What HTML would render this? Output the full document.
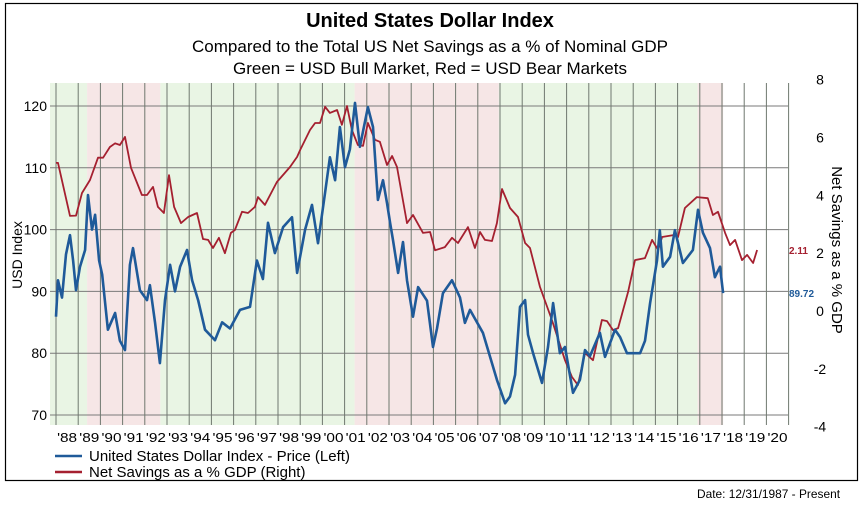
<!DOCTYPE html>
<html><head><meta charset="utf-8"><style>
html,body{margin:0;padding:0;background:#fff;}
svg text{font-family:"Liberation Sans",sans-serif;}
</style></head><body>
<svg id="chart" width="861" height="509" viewBox="0 0 861 509" xmlns="http://www.w3.org/2000/svg">
<rect x="5.5" y="3.5" width="852" height="477" fill="#fff" stroke="#000" stroke-width="1.2"/>
<text x="430" y="27" text-anchor="middle" font-size="20" font-weight="bold">United States Dollar Index</text>
<text x="430" y="52" text-anchor="middle" font-size="17">Compared to the Total US Net Savings as a % of Nominal GDP</text>
<text x="430" y="74" text-anchor="middle" font-size="17">Green = USD Bull Market, Red = USD Bear Markets</text>
<g id="regimes"></g>
<g id="grid"></g>
<g id="series"></g>
<g id="axes"></g>
<text transform="translate(22,255) rotate(-90)" text-anchor="middle" font-size="14">USD Index</text>
<text transform="translate(832,250) rotate(90)" text-anchor="middle" font-size="15">Net Savings as a % GDP</text>
<line x1="55" y1="456" x2="82" y2="456" stroke="#1f5a99" stroke-width="2.5"/>
<text x="89" y="461" font-size="15">United States Dollar Index - Price (Left)</text>
<line x1="55" y1="472" x2="82" y2="472" stroke="#a52030" stroke-width="2.5"/>
<text x="89" y="477" font-size="15">Net Savings as a % GDP (Right)</text>
<text x="840" y="498" text-anchor="end" font-size="12" textLength="143" lengthAdjust="spacingAndGlyphs">Date: 12/31/1987 - Present</text>
</svg>
<script>
const usdYears=[1988.00,1988.09,1988.27,1988.45,1988.63,1988.77,1988.90,1989.08,1989.31,1989.44,1989.62,1989.76,1989.94,1990.08,1990.34,1990.66,1990.88,1991.11,1991.33,1991.47,1991.78,1992.10,1992.23,1992.46,1992.68,1992.91,1993.14,1993.36,1993.59,1993.90,1994.13,1994.40,1994.71,1995.16,1995.48,1995.84,1996.29,1996.74,1997.05,1997.32,1997.55,1997.86,1998.23,1998.63,1998.86,1999.22,1999.53,1999.80,2000.12,2000.34,2000.57,2000.79,2001.02,2001.24,2001.47,2001.69,2002.05,2002.28,2002.50,2002.73,2002.91,2003.05,2003.18,2003.41,2003.63,2003.81,2004.08,2004.31,2004.71,2004.98,2005.16,2005.43,2005.84,2006.20,2006.42,2006.65,2007.23,2007.86,2008.23,2008.45,2008.68,2008.90,2009.13,2009.26,2009.49,2009.89,2010.16,2010.39,2010.70,2010.93,2011.29,2011.60,2011.83,2012.05,2012.50,2012.73,2013.18,2013.41,2013.72,2014.31,2014.53,2014.76,2015.07,2015.20,2015.34,2015.66,2015.88,2016.24,2016.69,2016.92,2017.14,2017.46,2017.68,2017.91,2018.05];
const usdValues=[85.9,91.8,89,96,99.1,95,90.2,94,96.7,105.6,100,102.4,95,92.7,83.8,86.5,82,80.5,94.3,97,90.2,88.6,91,85,78.4,88.6,94.3,90,94,96.7,91.8,88.6,83.8,82.1,85,84,87,87.5,95,92,101.1,96.2,100.4,102,93,100,104,97.8,106,111.7,108,116.6,110.1,113,120.5,113.4,119.8,116.6,104.8,108,104.3,101.1,98.3,93,98,91.8,85.9,90.7,88.5,81,84,89.7,91.8,89,84.9,87,83.3,75.7,71.9,73,76.5,87.5,88.6,83,80,75.2,81,88.1,80,81,73.6,75.7,80.5,79.5,83.3,79.4,83.8,82.6,80,80,82,88.1,95,99.9,94,95.6,99.9,94.6,96.7,103.2,99.5,97,92.3,94,89.72];
const savYears=[1988.00,1988.09,1988.63,1988.90,1989.17,1989.53,1989.89,1990.12,1990.43,1990.66,1990.88,1991.11,1991.38,1991.87,1992.10,1992.37,1992.59,1992.86,1993.09,1993.32,1993.63,1993.95,1994.35,1994.62,1994.85,1995.07,1995.34,1995.61,1995.88,1996.06,1996.38,1996.65,1996.96,1997.10,1997.41,1997.95,1998.54,1998.86,1999.00,1999.44,1999.67,1999.89,2000.12,2000.34,2000.66,2000.88,2001.11,2001.33,2001.60,2001.83,2002.05,2002.37,2002.59,2002.91,2003.14,2003.36,2003.81,2004.08,2004.53,2004.85,2005.07,2005.52,2005.84,2006.11,2006.56,2006.87,2007.10,2007.32,2007.64,2007.86,2008.09,2008.45,2008.81,2009.13,2009.35,2009.80,2010.34,2010.93,2011.24,2011.51,2011.83,2012.19,2012.59,2012.82,2013.09,2013.32,2013.77,2014.08,2014.53,2014.85,2015.12,2015.30,2015.88,2016.02,2016.33,2016.87,2017.36,2017.59,2017.82,2018.14,2018.36,2018.59,2018.90,2019.13,2019.40,2019.58];
const savValues=[5.12,5.12,3.29,3.3,4.08,4.53,5.3,5.3,5.67,5.8,5.74,6.02,4.95,4.01,4.01,4.29,3.6,3.39,4.7,3.6,3.04,3.25,3.39,2.49,2.46,2.18,2.53,2.0,2.7,2.8,3.43,3.39,3.6,3.94,3.67,4.46,4.98,5.33,5.57,6.26,6.5,6.5,7.06,6.85,6.95,6.44,7.09,6.26,5.74,5.71,6.5,5.92,5.85,5.05,5.36,4.98,3.04,3.32,2.7,2.73,2.1,2.21,2.53,2.35,2.9,2.18,2.73,2.46,2.42,3.04,4.22,3.56,3.25,2.35,2.18,0.83,-0.31,-1.7,-2.28,-2.56,-1.45,-1.7,-0.31,-0.35,-0.66,-0.59,0.66,1.76,1.83,2.46,2.11,2.56,2.63,2.56,3.56,3.94,3.9,3.32,3.43,2.7,2.28,2.46,1.76,1.94,1.66,2.11];
const regimeStarts=[1987.73,1989.4,1992.7,2001.45,2007.95,2016.9];
const regimeEnds=[1989.4,1992.7,2001.45,2007.95,2016.9,2018.05];
const regimeTypes=["bull","bear","bull","bear","bull","bear"];
const leftTicks=[70,80,90,100,110,120];
const rightTicks=[-4,-2,0,2,4,6,8];
const yearLabels=["'88","'89","'90","'91","'92","'93","'94","'95","'96","'97","'98","'99","'00","'01","'02","'03","'04","'05","'06","'07","'08","'09","'10","'11","'12","'13","'14","'15","'16","'17","'18","'19","'20"];
const lastUsdLabel="89.72", lastSavLabel="2.11";

const NS="http://www.w3.org/2000/svg";
const X0=56, PX_PER_YEAR=22.2, PLOT_TOP=83, PLOT_BOTTOM=425, PLOT_LEFT=50, PLOT_RIGHT=788;
function xScale(t){return X0+(t-1988)*PX_PER_YEAR;}
function yLeft(v){return 415-(v-70)*6.18;}
function yRight(v){return 311-v*28.92;}
function mk(tag,attrs,parent){const e=document.createElementNS(NS,tag);for(const k in attrs)e.setAttribute(k,attrs[k]);parent.appendChild(e);return e;}

const regG=document.getElementById('regimes');
for(let i=0;i<regimeStarts.length;i++){
  const x1=Math.max(PLOT_LEFT,xScale(regimeStarts[i])), x2=xScale(regimeEnds[i]);
  const r=mk('rect',{x:x1,y:PLOT_TOP,width:x2-x1,height:PLOT_BOTTOM-PLOT_TOP,fill:regimeTypes[i]==='bull'?'#e9f5e4':'#f6e6e6'},regG);
  
  
}
const gridG=document.getElementById('grid');
for(const v of leftTicks){
  const l=mk('line',{x1:PLOT_LEFT,x2:PLOT_RIGHT,y1:yLeft(v),y2:yLeft(v),stroke:'#7a7a7a','stroke-width':1},gridG);
  
  
  const t=mk('text',{x:47,y:yLeft(v)+5,'text-anchor':'end','font-size':14},gridG);
  t.textContent=v;
  
  
}
for(let i=0;i<=yearLabels.length;i++){
  const x=xScale(1988+i);
  const l=mk('line',{x1:x,x2:x,y1:PLOT_TOP,y2:PLOT_BOTTOM,stroke:'#6f786f','stroke-width':1},gridG);
  
  
}
yearLabels.forEach((lab,i)=>{
  const t=mk('text',{x:xScale(1988.5+i),y:442,'text-anchor':'middle','font-size':13,textLength:20,lengthAdjust:'spacingAndGlyphs'},gridG);
  t.textContent=lab;
  
  
});
for(const v of rightTicks){
  const t=mk('text',{x:820,y:yRight(v)+5,'text-anchor':'middle','font-size':14},gridG);
  t.textContent=v;
  
  
}
const serG=document.getElementById('series');
const sp=mk('polyline',{points:savYears.map((t,i)=>xScale(t).toFixed(1)+','+yRight(savValues[i]).toFixed(1)).join(' '),fill:'none',stroke:'#a52030','stroke-width':1.8,'stroke-linejoin':'round'},serG);


const up=mk('polyline',{points:usdYears.map((t,i)=>xScale(t).toFixed(1)+','+yLeft(usdValues[i]).toFixed(1)).join(' '),fill:'none',stroke:'#1f5a99','stroke-width':2.6,'stroke-linejoin':'round'},serG);


const axG=document.getElementById('axes');
const l1=mk('text',{x:789,y:yRight(savValues[savValues.length-1])+4,'font-size':10,'font-weight':'bold',fill:'#a52030'},axG);
l1.textContent=lastSavLabel;


const l2=mk('text',{x:789,y:yLeft(usdValues[usdValues.length-1])+4,'font-size':10,'font-weight':'bold',fill:'#1f5a99'},axG);
l2.textContent=lastUsdLabel;


</script>
</body></html>
